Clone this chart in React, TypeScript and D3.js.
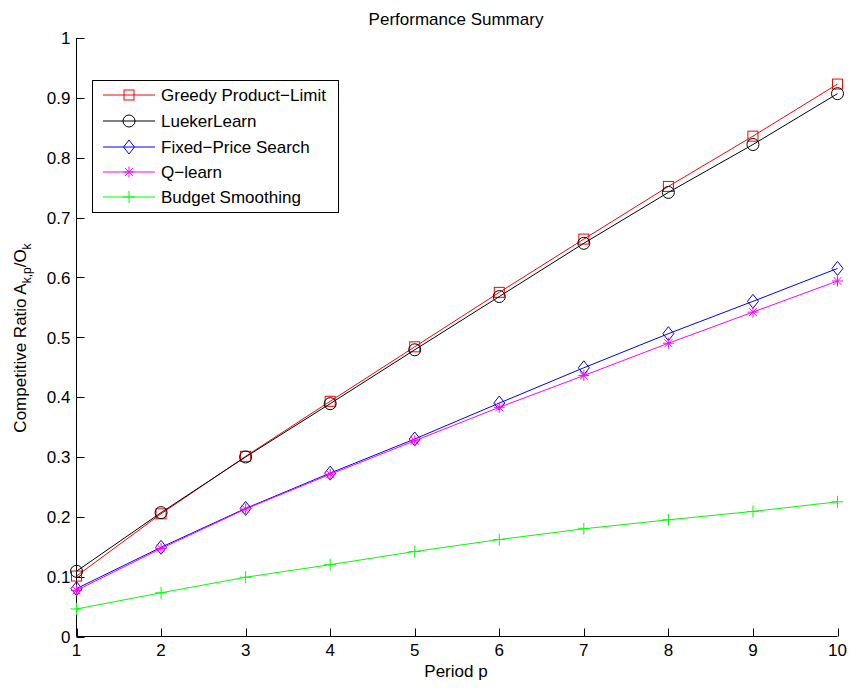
import React from 'react';
import * as d3 from 'd3';

const periods = [1, 2, 3, 4, 5, 6, 7, 8, 9, 10];
const greedy = [0.101, 0.205, 0.301, 0.393, 0.484, 0.575, 0.664, 0.752, 0.836, 0.923];
const lueker = [0.109, 0.207, 0.300, 0.389, 0.479, 0.568, 0.657, 0.742, 0.822, 0.907];
const fixedPrice = [0.080, 0.149, 0.214, 0.273, 0.330, 0.390, 0.449, 0.506, 0.560, 0.615];
const qLearn = [0.077, 0.147, 0.213, 0.271, 0.327, 0.383, 0.436, 0.490, 0.542, 0.594];
const budget = [0.046, 0.073, 0.099, 0.120, 0.142, 0.162, 0.180, 0.195, 0.209, 0.225];
const yTicks = [0, 0.1, 0.2, 0.3, 0.4, 0.5, 0.6, 0.7, 0.8, 0.9, 1];

const series = [
  { name: 'Greedy Product\u2212Limit', values: greedy, color: '#ff0000', marker: 'square' },
  { name: 'LuekerLearn', values: lueker, color: '#000000', marker: 'circle' },
  { name: 'Fixed\u2212Price Search', values: fixedPrice, color: '#0000ff', marker: 'diamond' },
  { name: 'Q\u2212learn', values: qLearn, color: '#ff00ff', marker: 'star' },
  { name: 'Budget Smoothing', values: budget, color: '#00ff00', marker: 'plus' },
];

const W = 850;
const H = 690;
const left = 76.5;
const right = 837.5;
const top = 38;
const bottom = 636.5;
const font = '"Liberation Sans", Arial, Helvetica, sans-serif';

function Marker({ type, x, y, color }: { type: string; x: number; y: number; color: string }) {
  if (type === 'square') {
    return <rect x={x - 5} y={y - 5} width={10} height={10} fill="none" stroke={color} strokeWidth={1} />;
  }
  if (type === 'circle') {
    return <circle cx={x} cy={y} r={6} fill="none" stroke={color} strokeWidth={1} />;
  }
  if (type === 'diamond') {
    return (
      <path d={`M${x},${y - 7}L${x + 5.5},${y}L${x},${y + 7}L${x - 5.5},${y}Z`} fill="none" stroke={color} strokeWidth={1} />
    );
  }
  if (type === 'star') {
    const r = 5.5;
    const d = r * 0.72;
    return (
      <path
        d={`M${x - r},${y}L${x + r},${y}M${x},${y - r}L${x},${y + r}M${x - d},${y - d}L${x + d},${y + d}M${x - d},${y + d}L${x + d},${y - d}`}
        stroke={color}
        strokeWidth={1}
      />
    );
  }
  const r = 6;
  return <path d={`M${x - r},${y}L${x + r},${y}M${x},${y - r}L${x},${y + r}`} stroke={color} strokeWidth={1} />;
}

export default function App() {
  const x = d3.scaleLinear().domain([1, 10]).range([left, right]);
  const y = d3.scaleLinear().domain([0, 1]).range([bottom, top]);
  const line = d3
    .line<number>()
    .x((_, i) => x(periods[i]))
    .y((d) => y(d));

  const legX = 92.5;
  const legY = 80.5;
  const legW = 246;
  const legH = 132;
  const rowY = [95, 121, 147, 172, 197];

  return (
    <svg
      width={W}
      height={H}
      style={{ position: 'absolute', left: 0, top: 0, background: '#fff', fontFamily: font }}
    >
      <rect width={W} height={H} fill="#fff" />
      <text x={456} y={25} textAnchor="middle" fontSize={17}>
        Performance Summary
      </text>

      {/* axes */}
      <line x1={left} x2={left} y1={top} y2={bottom} stroke="#000" />
      <line x1={left} x2={right} y1={bottom} y2={bottom} stroke="#000" />
      {yTicks.map((t) => (
        <g key={'y' + t}>
          <line x1={left} x2={left + 8} y1={Math.round(y(t)) + 0.5} y2={Math.round(y(t)) + 0.5} stroke="#000" />
          <text x={left - 6} y={y(t) + 6.3} textAnchor="end" fontSize={17}>
            {d3.format('')(t)}
          </text>
        </g>
      ))}
      {periods.map((p) => (
        <g key={'x' + p}>
          <line x1={Math.round(x(p)) + 0.5} x2={Math.round(x(p)) + 0.5} y1={bottom} y2={bottom - 8} stroke="#000" />
          <text x={x(p)} y={bottom + 19.5} textAnchor="middle" fontSize={17}>
            {p}
          </text>
        </g>
      ))}
      <text x={456} y={677} textAnchor="middle" fontSize={17}>
        Period p
      </text>
      <text transform={`translate(26,338) rotate(-90)`} textAnchor="middle" fontSize={17}>
        Competitive Ratio A
        <tspan dy={5} fontSize={12}>k,p</tspan>
        <tspan dy={-5}>/O</tspan>
        <tspan dy={5} fontSize={12}>k</tspan>
      </text>

      {/* series */}
      {series.map((s) => (
        <g key={s.name}>
          <path d={line(s.values) || ''} fill="none" stroke={s.color} strokeWidth={1} />
          {s.values.map((v, i) => (
            <Marker key={i} type={s.marker} x={x(periods[i])} y={y(v)} color={s.color} />
          ))}
        </g>
      ))}

      {/* legend */}
      <rect x={legX} y={legY} width={legW} height={legH} fill="#fff" stroke="#000" />
      {series.map((s, i) => (
        <g key={'leg' + s.name}>
          <line x1={103} x2={155} y1={rowY[i]} y2={rowY[i]} stroke={s.color} />
          <Marker type={s.marker} x={129} y={rowY[i]} color={s.color} />
          <text x={161} y={rowY[i] + 6.3} fontSize={17}>
            {s.name}
          </text>
        </g>
      ))}
    </svg>
  );
}
